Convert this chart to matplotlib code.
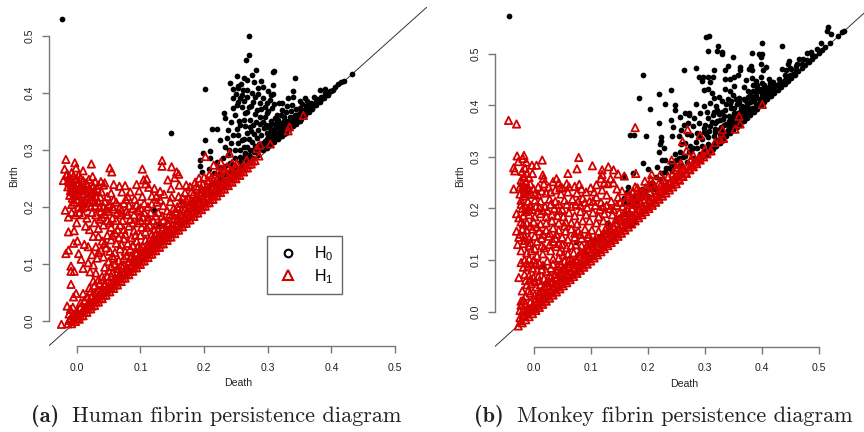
import matplotlib
matplotlib.use("Agg")
import matplotlib.pyplot as plt
from matplotlib.lines import Line2D

# (death, birth) pairs
human_h0 = [
(-.023,.529),(.270,.500),(.270,.466),(.266,.458),(.281,.440),(.275,.431),(.308,.436),(.310,.437),(.251,.429),(.262,.425),
(.267,.422),(.240,.417),(.342,.425),(.279,.418),(.290,.420),(.308,.413),(.201,.406),(.246,.406),(.253,.412),(.253,.408),
(.285,.408),(.293,.409),(.301,.403),(.308,.398),(.339,.403),(.382,.405),(.390,.406),(.432,.433),(.419,.421),(.411,.415),
(.415,.418),(.245,.390),(.259,.396),(.257,.390),(.253,.384),(.261,.405),(.251,.378),(.232,.364),(.233,.355),(.245,.373),
(.249,.361),(.264,.364),(.280,.393),(.277,.384),(.293,.390),(.304,.387),(.317,.381),(.330,.377),(.270,.375),(.283,.370),
(.301,.367),(.314,.361),(.332,.390),(.340,.393),(.359,.390),(.372,.393),(.364,.378),(.351,.373),(.213,.337),(.221,.336),
(.148,.330),(.238,.335),(.252,.337),(.257,.343),(.225,.317),(.201,.317),(.209,.298),(.199,.294),(.194,.282),(.193,.272),
(.196,.261),(.207,.266),(.223,.258),(.236,.320),(.233,.305),(.243,.311),(.249,.299),(.259,.317),(.267,.329),(.277,.343),
(.293,.349),(.309,.337),(.267,.305),(.283,.320),(.298,.329),(.322,.346),(.335,.358),(.257,.288),(.241,.276),(.277,.299),
(.293,.311),(.314,.329),(.330,.340),(.343,.361),(.356,.370),(.377,.384),(.395,.396),(.403,.405),(.121,.195),(.127,.170),
(.139,.156),(.165,.209),(.262,.385),(.268,.392),(.274,.377),(.288,.381),(.296,.375),(.307,.373),(.322,.369),(.287,.358),
(.272,.352),(.282,.349),(.296,.358),(.305,.351),(.316,.352),(.326,.357),(.265,.342),(.273,.333),(.285,.334),(.294,.338),
(.304,.343),(.313,.341),(.322,.335),(.331,.350),(.339,.349),(.347,.352),(.254,.325),(.263,.318),(.275,.314),(.286,.310),
(.298,.318),(.306,.325),(.318,.322),(.326,.328),(.337,.343),(.345,.345),(.352,.358),(.361,.367),(.369,.373),(.248,.285),
(.256,.300),(.265,.295),(.272,.288),(.283,.296),(.291,.302),(.301,.312),(.309,.318),(.319,.327),(.233,.272),(.225,.270),
(.215,.260),(.238,.290),(.246,.272),
(.210,.222),(.220,.236),(.230,.247),(.240,.254),(.250,.262),(.260,.272),(.268,.280),(.276,.285),(.284,.291),(.292,.299),
(.298,.303),(.304,.308),(.310,.314),(.316,.318),(.322,.324),(.328,.330),(.334,.336),(.340,.342),(.346,.348),(.352,.354),
(.358,.360),(.364,.366),(.370,.372),(.376,.378),(.382,.384),(.388,.390),(.394,.397),(.400,.403),(.406,.409),
(.300,.312),(.306,.316),(.312,.322),(.318,.328),(.324,.334),(.330,.338),(.336,.344),(.342,.352),(.348,.355),(.354,.362),
(.360,.369),(.366,.374),(.372,.379),(.378,.388),(.384,.392),(.390,.400),(.292,.310),(.300,.322),(.310,.333),(.320,.343),
(.328,.348),(.336,.354),(.344,.360),(.352,.368),(.360,.376),(.368,.382),(.286,.303),(.278,.296),(.270,.291),(.262,.286),
# second pass, the thick part of the cloud
(.303,.330),(.311,.345),(.318,.338),(.325,.350),(.333,.345),(.341,.358),(.349,.362),(.357,.366),(.365,.370),(.290,.325),
(.297,.343),(.305,.335),(.312,.356),(.320,.360),(.328,.366),(.336,.368),(.345,.372),(.353,.380),(.362,.385),(.298,.365),
(.288,.345),(.279,.328),(.270,.318),(.262,.305),(.254,.312),(.246,.325),(.239,.300),(.229,.285),(.220,.278),(.210,.285),
(.280,.362),(.272,.340),(.290,.372),(.299,.382),(.310,.380),(.322,.382),(.338,.378),(.350,.386),(.262,.352),(.255,.350),
(.268,.366),(.260,.374),(.305,.395),(.285,.398),(.275,.400),(.268,.405),(.258,.415),(.250,.398),(.243,.348),(.300,.340),
(.315,.348),(.325,.338),(.335,.352),(.343,.349),(.351,.350),(.295,.315),(.303,.320),(.311,.326),(.319,.333),(.327,.340),
(.335,.348),(.343,.354),(.351,.359),(.359,.364),(.367,.376),(.375,.386),(.383,.389),(.390,.395),(.398,.402),(.280,.306),
(.272,.300),(.264,.293),(.256,.278),(.248,.270),(.240,.262),(.232,.258),(.224,.250),(.216,.244),(.208,.236),(.200,.228),
]

human_h1 = [
(-.017,.283),(-.003,.277),(.023,.275),(-.019,.266),(-.001,.268),(.010,.263),(-.021,.246),(.052,.268),(.055,.261),(.103,.266),
(.134,.281),(.134,.271),(.149,.270),(.157,.261),(.160,.257),(.025,.253),(.105,.247),(.110,.249),(.108,.240),(.094,.239),
(.143,.247),(.154,.251),(.058,.239),(.067,.236),(.076,.237),(.044,.242),(.042,.238),(.015,.242),(.029,.244),(.161,.238),
(.172,.238),(.148,.232),(.131,.227),(.113,.234),(.071,.226),(.080,.218),(.077,.213),(.103,.218),(.118,.219),(.125,.218),
(.131,.212),(.147,.209),(.149,.217),(.160,.218),(.091,.213),(.039,.226),(.037,.217),(.044,.209),(.010,.223),(.018,.218),
(.005,.229),(-.008,.232),(-.003,.226),(-.018,.194),(-.013,.182),(-.013,.156),(-.004,.158),(.001,.140),(-.005,.136),(-.013,.124),
(-.017,.118),(.003,.118),(.007,.108),(-.009,.096),(-.004,.087),(-.009,.087),(.010,.092),(.021,.086),(-.009,.064),(-.001,.048),
(-.005,.042),(-.015,.026),(-.024,-.006),(.202,.288),(.240,.294),(.304,.310),(.288,.308),(.283,.302),(.334,.340),(.332,.333),
(.356,.360),(.267,.282),(.251,.276),(.215,.273),(.226,.278),
# dense part at the left edge
(-.015,.258),(-.012,.252),(-.008,.260),(-.005,.254),(-.012,.243),(-.007,.245),(-.002,.248),(.003,.256),(.006,.250),(-.014,.235),
(-.010,.228),(-.005,.236),(.001,.240),(.006,.238),(.012,.235),(-.011,.220),(-.007,.215),(-.002,.219),(.003,.222),(.008,.228),
(.014,.228),(.020,.232),(.026,.236),(.032,.232),(-.004,.208),(.001,.212),(.006,.208),(.012,.212),(.018,.208),(.024,.224),
(.030,.218),(.034,.208),(.003,.200),(.009,.198),(.015,.201),(.022,.200),(.028,.210),(.036,.199),(.042,.200),(.050,.203),
(.056,.200),(.062,.208),(.068,.200),(.074,.206),(.082,.202),(.088,.197),(.094,.203),(.100,.198),(.106,.206),(.112,.200),
(.118,.205),(.126,.208),(.136,.202),(.142,.193),(.152,.197),(.048,.218),(.054,.224),(.084,.226),(.098,.228),(.122,.232),
(.137,.222),(.058,.212),(.064,.190),
(-.008,.190),(-.002,.186),(.004,.190),(.010,.186),(.016,.180),(.024,.190),(.030,.186),(.036,.178),(.044,.187),(.050,.192),
(.056,.180),(.062,.176),(.070,.186),(.078,.192),(.084,.178),(.090,.186),(.098,.182),(.106,.190),(.112,.182),(.120,.176),
(.128,.190),(.134,.184),(.146,.187),(.156,.190),(.150,.178),(.000,.172),(.014,.166),(.020,.160),(.028,.172),(.034,.162),
(.042,.168),(.048,.176),(.054,.164),(.060,.154),(.068,.168),(.074,.160),(.082,.166),(.090,.158),(.096,.172),(.102,.164),
(.108,.156),(.114,.168),(.122,.160),(.130,.170),(.142,.172),(.128,.150),(.026,.148),(.034,.148),(.040,.140),(.048,.150),
(.054,.142),(.062,.136),(.066,.146),(.074,.144),(.080,.136),(.086,.146),(.094,.140),(.100,.150),(.108,.142),(.114,.134),
(.120,.146),(.012,.134),(.018,.130),(.030,.130),(.038,.124),(.046,.128),(.052,.122),(.060,.120),(.068,.126),(.076,.122),
(.084,.126),(.092,.120),(.100,.128),(.106,.122),(.024,.116),(.032,.110),(.042,.112),(.050,.104),(.058,.110),(.066,.106),
(.074,.110),(.082,.104),(.090,.108),(.018,.102),(.026,.098),(.044,.094),(.054,.096),(.064,.092),(.072,.094),(.080,.092),
(.030,.084),(.040,.078),(.048,.078),(.056,.084),(.066,.076),(.020,.058),(.028,.062),(.036,.066),(.044,.062),(.052,.066),
(.010,.048),(.016,.042),(.022,.052),(.030,.050),(.038,.052),(.006,.032),(.012,.036),(.020,.036),(.028,.040),
(-.010,.020),(-.006,.024),(.000,.018),(.006,.024),(.012,.022),(-.012,.012),(-.006,.010),(.000,.012),
# band along the diagonal
(-.014,-.005),(-.008,-.005),(-.002,-.001),(.004,.003),(.010,.009),(.016,.015),(.022,.021),(.028,.027),(.034,.033),(.040,.039),
(.046,.045),(.052,.051),(.058,.057),(.064,.063),(.070,.069),(.076,.075),(.082,.081),(.088,.087),(.094,.093),(.100,.099),
(.106,.105),(.112,.111),(.118,.117),(.124,.123),(.130,.129),(.136,.135),(.142,.141),(.148,.147),(.154,.153),(.160,.159),
(.166,.165),(.172,.171),(.178,.177),(.184,.183),(.190,.189),(.196,.195),(.202,.201),(.208,.207),(.214,.213),(.220,.219),
(.226,.225),(.232,.231),(.238,.237),(.244,.243),(.250,.249),(.256,.255),(.262,.261),(.268,.268),(.274,.275),(.280,.281),
(.286,.289),(-.010,.004),(-.004,.008),(.002,.010),(.008,.016),(.014,.023),(.020,.029),(.026,.034),(.032,.041),(.038,.047),
(.044,.053),(.050,.059),(.056,.065),(.062,.071),(.068,.078),(.074,.083),(.080,.090),(.086,.096),(.092,.102),(.098,.108),
(.104,.114),(.110,.120),(.116,.126),(.122,.132),(.128,.138),(.134,.144),(.140,.150),(.146,.156),(.152,.162),(.158,.168),
(.164,.174),(.170,.180),(.176,.186),(.182,.192),(.188,.198),(.194,.204),(.200,.210),(.206,.216),(.212,.222),(.218,.228),
(.224,.234),(.230,.240),(.236,.246),(.242,.252),(.248,.258),(.254,.264),(.260,.270),
(.024,.044),(.034,.054),(.044,.066),(.054,.078),(.064,.086),(.074,.098),(.084,.110),(.094,.118),(.104,.130),(.114,.142),
(.124,.152),(.134,.160),(.144,.170),(.154,.180),(.162,.188),(.170,.196),(.178,.204),(.186,.212),(.194,.220),(.202,.228),
(.210,.236),(.218,.242),(.226,.250),(.234,.256),(.242,.262),(.250,.270),
(.168,.205),(.175,.215),(.183,.222),(.190,.232),(.198,.240),(.206,.246),(.170,.225),(.178,.235),(.186,.243),(.200,.252),
(.192,.250),(.165,.195),(.158,.200),(.150,.186),(.160,.180),(.140,.160),(.132,.148),(.122,.140),(.112,.130),(.102,.118),
(.212,.252),(.222,.262),(.232,.265),
# second pass, filling the band and the crowded patches
(-.012,.001),(-.006,.002),(.000,.005),(.006,.009),(.012,.015),(.018,.021),(.024,.026),(.030,.033),(.036,.039),(.042,.045),
(.048,.051),(.054,.057),(.060,.063),(.066,.069),(.072,.075),(.078,.081),(.084,.087),(.090,.093),(.096,.099),(.102,.105),
(.108,.111),(.114,.117),(.120,.123),(.126,.129),(.132,.135),(.138,.141),(.144,.147),(.150,.153),(.156,.159),(.162,.165),
(.168,.171),(.174,.177),(.180,.183),(.186,.189),(.192,.195),(.198,.201),(.204,.207),(.210,.213),(.216,.219),(.222,.225),
(.228,.231),(.234,.238),(.240,.244),(.246,.250),(.252,.256),(.258,.262),(.264,.268),(.270,.274),(.276,.280),
(.028,.038),(.038,.050),(.048,.060),(.058,.072),(.068,.084),(.078,.094),(.088,.104),(.098,.114),(.108,.126),(.118,.136),
(.128,.146),(.138,.154),(.148,.164),(.158,.176),(.166,.184),(.174,.192),(.182,.200),(.190,.208),(.198,.216),(.206,.224),
(.214,.232),(.222,.238),(.230,.246),(.238,.252),(.246,.262),
(.180,.210),(.188,.218),(.196,.226),(.204,.236),(.212,.242),(.220,.248),(.176,.198),(.184,.206),(.192,.214),(.172,.212),
(.164,.206),(.156,.192),(.166,.216),(.180,.226),(.188,.236),(.196,.232),(.208,.256),(.226,.262),(.236,.270),(.244,.276),
(-.016,.255),(-.013,.247),(-.009,.238),(-.006,.226),(-.001,.232),(.004,.234),(.009,.232),(.016,.238),(.021,.225),(.000,.250),
(.010,.246),(.019,.248),(.027,.228),(.034,.238),(.038,.244),(-.010,.250),(.016,.214),(.023,.212),(-.008,.204),(.010,.205),
(.029,.202),(.038,.192),(.046,.196),(.058,.196),(.070,.194),(.080,.186),(.096,.194),(.104,.182),(.116,.190),(.124,.184),
(.040,.182),(.052,.172),(.064,.160),(.072,.176),(.088,.172),(.100,.176),(.112,.176),(.124,.168),(.136,.176),(.136,.164),
(.118,.152),(.110,.164),(.092,.150),(.076,.152),(.056,.150),(.044,.136),(.070,.134),(.088,.132),(.096,.130),(.034,.120),
(.056,.114),(.078,.114),(.086,.114),(.060,.100),(.070,.098),(.050,.088),(.042,.072),(.034,.072),(.026,.070),(.018,.030),
]

monkey_h0 = [
(-.044,.573),(.307,.534),(.303,.532),(.516,.552),(.515,.545),(.522,.538),(.544,.545),(.541,.542),(.533,.534),(.401,.521),
(.436,.516),(.503,.521),(.519,.521),(.510,.513),(.324,.516),(.322,.506),(.331,.503),(.331,.499),(.306,.505),(.350,.494),
(.383,.502),(.395,.500),(.401,.500),(.399,.494),(.480,.501),(.487,.503),(.465,.490),(.480,.489),(.448,.487),(.446,.481),
(.435,.471),(.443,.468),(.399,.481),(.407,.474),(.403,.468),(.381,.477),(.377,.471),(.382,.469),(.362,.474),(.362,.469),
(.340,.477),(.335,.469),(.317,.469),(.263,.469),(.285,.473),(.191,.460),(.219,.423),(.240,.430),(.185,.414),(.204,.394),
(.230,.402),(.248,.401),(.248,.391),(.219,.366),(.240,.371),(.257,.377),(.265,.385),(.272,.386),(.169,.342),(.176,.343),
(.197,.341),(.245,.359),(.263,.362),(.258,.353),(.243,.340),(.254,.341),(.223,.338),(.223,.331),(.222,.325),(.228,.318),
(.219,.310),(.191,.288),(.201,.276),(.217,.281),(.225,.294),(.230,.295),(.158,.264),(.175,.268),(.166,.242),(.190,.238),
(.195,.234),
# cloud above the diagonal
(.290,.455),(.297,.456),(.305,.455),(.315,.455),(.310,.445),(.296,.448),(.335,.452),(.345,.451),(.352,.455),(.358,.459),
(.372,.450),(.383,.453),(.390,.448),(.398,.456),(.400,.444),(.412,.452),(.420,.446),(.428,.440),(.298,.430),(.305,.432),
(.312,.425),(.316,.415),(.325,.417),(.335,.432),(.345,.428),(.352,.437),(.368,.436),(.375,.428),(.385,.440),(.392,.434),
(.406,.436),(.415,.438),(.425,.432),(.285,.402),(.298,.398),(.310,.405),(.320,.398),(.330,.408),(.340,.412),(.350,.420),
(.360,.415),(.370,.410),(.380,.420),(.390,.424),(.400,.420),(.412,.426),(.272,.382),(.282,.375),(.292,.385),(.304,.388),
(.316,.388),(.325,.384),(.336,.392),(.346,.396),(.356,.402),(.366,.398),(.376,.404),(.386,.408),(.396,.412),(.270,.365),
(.280,.360),(.290,.365),(.300,.362),(.312,.368),(.322,.370),(.332,.374),(.342,.380),(.352,.385),(.362,.388),(.372,.392),
(.382,.396),(.268,.345),(.276,.342),(.286,.346),(.298,.348),(.308,.350),(.318,.355),(.328,.358),(.338,.364),(.348,.368),
(.358,.374),(.368,.378),(.258,.325),(.266,.328),(.275,.322),(.285,.330),(.296,.335),(.306,.338),(.316,.340),(.326,.345),
(.248,.305),(.256,.310),(.265,.302),(.276,.312),(.286,.318),(.296,.322),(.306,.326),(.240,.288),(.250,.295),(.258,.284),
(.268,.290),(.280,.298),(.292,.306),(.232,.278),(.242,.272),(.215,.262),(.225,.268),(.205,.250),(.212,.238),(.200,.225),
# thick band next to the diagonal
(.290,.292),(.296,.300),(.302,.304),(.308,.310),(.314,.316),(.320,.322),(.326,.328),(.332,.334),(.338,.340),(.344,.346),
(.350,.352),(.356,.358),(.362,.364),(.368,.370),(.374,.376),(.380,.382),(.386,.388),(.392,.394),(.398,.400),(.404,.406),
(.410,.412),(.416,.418),(.422,.424),(.428,.430),(.434,.436),(.440,.442),(.446,.448),(.452,.454),(.458,.460),(.464,.466),
(.470,.472),(.476,.478),(.482,.484),(.488,.490),(.494,.496),(.500,.502),(.506,.508),
(.300,.312),(.310,.322),(.320,.332),(.330,.342),(.340,.352),(.350,.362),(.360,.372),(.370,.382),(.380,.392),(.390,.402),
(.400,.412),(.410,.422),(.420,.432),(.430,.442),(.440,.450),(.450,.460),(.460,.468),(.470,.480),(.330,.352),(.340,.362),
(.350,.374),(.360,.382),(.370,.394),(.380,.406),(.390,.414),(.400,.426),(.410,.434),(.420,.440),(.430,.452),(.440,.460),
(.452,.470),(.460,.476),(.404,.440),(.394,.428),(.384,.416),(.374,.404),(.364,.395),
(.158,.220),(.163,.232),(.172,.222),(.185,.230),(.190,.222),(.180,.212),(.170,.208),(.162,.210),(.075,.135),(.105,.139),
(.115,.141),(.128,.172),(.160,.190),(.172,.170),(.178,.176),(.090,.112),(.016,.090),
# second pass, the crowded part
(.335,.342),(.342,.350),(.349,.356),(.356,.364),(.363,.371),(.370,.377),(.377,.385),(.384,.390),(.391,.398),(.398,.405),
(.405,.412),(.412,.419),(.419,.426),(.426,.433),(.433,.440),(.440,.447),(.447,.454),(.454,.462),(.306,.316),(.316,.326),
(.326,.336),(.336,.346),(.346,.356),(.356,.368),(.366,.376),(.376,.388),(.386,.396),(.396,.406),(.406,.418),(.416,.428),
(.426,.440),(.436,.446),(.318,.348),(.326,.354),(.334,.362),(.342,.370),(.350,.378),(.358,.386),(.366,.390),(.374,.398),
(.382,.408),(.390,.418),(.398,.432),(.406,.426),(.414,.444),(.344,.402),(.352,.396),(.360,.406),(.368,.412),(.376,.416),
(.384,.428),(.392,.440),(.306,.375),(.314,.382),(.322,.392),(.330,.388),(.338,.402),(.346,.408),(.354,.412),(.302,.345),
(.310,.360),(.318,.366),(.326,.372),(.334,.380),(.290,.340),(.298,.356),(.280,.318),(.272,.310),(.262,.300),(.254,.298),
(.246,.282),(.238,.278),(.230,.270),(.222,.258),(.208,.240),(.450,.472),(.462,.480),(.472,.490),(.488,.498),(.496,.510),
]

monkey_h1 = [
(-.044,.371),(-.030,.364),(-.029,.302),(-.017,.303),(-.019,.297),(-.027,.291),(-.013,.290),(.015,.294),(-.003,.284),(.005,.284),
(-.035,.279),(-.033,.273),(.079,.299),(.076,.277),(.103,.283),(.131,.281),(.120,.275),(.140,.275),(.120,.266),(.148,.267),
(.159,.263),(.060,.268),(.178,.357),(.270,.353),(.292,.342),(.331,.353),(.360,.379),(.362,.364),(.401,.402),(.353,.354),
(.261,.330),(.268,.312),(.242,.294),(.179,.268),(.195,.253),(.318,.328),(.327,.334),(.333,.336),(.300,.315),(.311,.312),
(.280,.303),(.289,.297),(.207,.266),(.222,.266),(.251,.275),(.260,.284),
# top rows
(-.020,.272),(-.015,.278),(-.012,.268),(-.017,.262),(-.022,.255),(-.014,.252),(-.008,.260),(-.002,.268),(.016,.265),(.017,.258),
(-.035,.238),(-.024,.242),(-.018,.245),(-.012,.240),(-.006,.248),(.000,.238),(.008,.242),(.018,.248),(.026,.242),(.034,.252),
(.040,.258),(.044,.250),(.046,.240),(.058,.248),(.062,.242),(.072,.243),(.080,.247),(.084,.238),(.100,.240),(.110,.246),
(.118,.258),(.124,.250),(.135,.258),(.130,.248),(.140,.250),(.146,.238),(.155,.234),(.178,.242),(.168,.228),(.120,.236),
(.106,.232),(.092,.232),(.076,.230),(.060,.232),(.048,.228),(.030,.232),(.022,.230),(.008,.226),(-.004,.228),(-.016,.224),
(-.022,.216),(-.010,.214),(-.022,.208),(-.014,.202),(-.006,.206),(.002,.216),(.012,.214),(.020,.204),(.028,.218),(.038,.214),
(.044,.208),(.054,.216),(.068,.218),(.074,.208),(.086,.220),(.098,.214),(.110,.222),(.118,.212),(.128,.226),(.136,.214),
(.148,.222),(.160,.214),(.172,.220),(.156,.204),(.146,.206),(.134,.200),(.122,.204),(.108,.206),(.094,.202),(.082,.206),
(.066,.204),(.050,.198),(.036,.200),(.024,.196),(.010,.202),(-.002,.198),(-.014,.194),(-.030,.190),(-.026,.182),(-.018,.186),
(-.008,.188),(.002,.184),(.012,.190),(.022,.184),(.032,.188),(.042,.186),(.052,.184),(.062,.192),(.072,.186),(.082,.194),
(.092,.188),(.104,.192),(.114,.184),(.124,.190),(.138,.188),(.150,.192),(.160,.194),(.032,.176),(.044,.172),(.056,.174),
(.066,.172),(.076,.170),(.086,.176),(.098,.176),(.110,.172),(.122,.176),(.132,.170),(.144,.178),(.154,.176),(-.022,.174),
(-.012,.172),(.000,.174),(.012,.170),(.022,.172),(-.030,.156),(-.020,.160),(-.012,.158),(-.002,.160),(.010,.156),(.022,.158),
(.034,.162),(.044,.158),(.056,.156),(.066,.160),(.078,.156),(.090,.160),(.102,.158),(.114,.156),(.126,.160),(.136,.156),
(-.026,.144),(-.016,.146),(-.008,.142),(.002,.146),(.014,.142),(.026,.146),(.038,.142),(.050,.144),(.060,.140),(.072,.144),
(.084,.142),(.096,.144),(.108,.140),(.118,.144),(-.028,.130),(-.018,.132),(-.008,.128),(.002,.122),(.014,.128),(.028,.130),
(.040,.126),(.050,.130),(.058,.124),(.084,.128),(.094,.130),(.104,.126),(-.022,.118),(-.012,.114),(-.004,.118),(.006,.108),
(.016,.112),(.030,.118),(.046,.116),(.060,.112),(.070,.114),(.082,.116),(.092,.112),(-.016,.100),(-.008,.102),(.000,.100),
(.010,.094),(.024,.098),(.034,.102),(.054,.098),(.066,.100),(.076,.098),(-.018,.086),(-.010,.088),(-.002,.084),(.006,.080),
(.014,.082),(.030,.084),(.042,.088),(.052,.084),(.062,.086),(-.026,.066),(-.016,.072),(-.008,.070),(.000,.066),(.008,.068),
(.018,.064),(.028,.070),(.038,.072),(.048,.070),(-.020,.040),(-.012,.052),(-.004,.054),(.004,.048),(.012,.052),(.022,.056),
(.032,.058),(-.022,.020),(-.014,.030),(-.006,.036),(.002,.032),(.010,.038),(.018,.040),(-.022,.012),(-.014,.016),(-.006,.018),
(.002,.020),(-.024,.002),(-.018,.004),(-.010,.006),(-.002,.008),
# band along the diagonal
(-.027,-.028),(-.020,-.022),(-.014,-.016),(-.008,-.010),(-.002,-.004),(.004,.002),(.010,.008),(.016,.014),(.022,.020),(.028,.026),
(.034,.032),(.040,.038),(.046,.044),(.052,.050),(.058,.056),(.064,.062),(.070,.068),(.076,.074),(.082,.080),(.088,.086),
(.094,.092),(.100,.098),(.106,.104),(.112,.110),(.118,.116),(.124,.122),(.130,.128),(.136,.134),(.142,.140),(.148,.146),
(.154,.152),(.160,.158),(.166,.164),(.172,.170),(.178,.176),(.184,.182),(.190,.188),(.196,.194),(.202,.200),(.208,.206),
(.214,.212),(.220,.218),(.226,.224),(.232,.230),(.238,.236),(.244,.242),(.250,.248),(.256,.255),(.262,.262),(.268,.268),
(.274,.275),(.280,.281),(.286,.287),(.292,.294),(.298,.300),(.304,.306),(.310,.312),
(-.024,-.012),(-.018,-.006),(-.012,.000),(-.006,.006),(.000,.012),(.006,.018),(.012,.024),(.018,.030),(.024,.036),(.030,.042),
(.036,.048),(.042,.054),(.048,.060),(.054,.066),(.060,.072),(.066,.078),(.072,.084),(.078,.090),(.084,.096),(.090,.102),
(.096,.108),(.102,.114),(.108,.120),(.114,.126),(.120,.132),(.126,.138),(.132,.144),(.138,.150),(.144,.156),(.150,.162),
(.156,.168),(.162,.174),(.168,.180),(.174,.186),(.180,.192),(.186,.198),(.192,.204),(.198,.210),(.204,.216),(.210,.222),
(.216,.228),(.222,.234),(.228,.240),(.234,.246),(.240,.252),(.246,.258),(.252,.264),(.258,.270),(.264,.276),(.270,.282),
(.010,.034),(.020,.046),(.030,.056),(.040,.066),(.050,.076),(.060,.088),(.070,.096),(.080,.108),(.090,.118),(.100,.128),
(.110,.136),(.120,.148),(.130,.156),(.140,.166),(.150,.180),(.160,.184),(.168,.192),(.172,.200),(.176,.208),(.180,.216),
(.184,.224),(.190,.232),(.196,.240),(.174,.232),(.182,.240),(.188,.212),(.196,.224),(.204,.232),(.212,.244),(.220,.250),
(.228,.256),(.236,.262),(.244,.268),(.206,.256),(.214,.236),(.222,.244),(.230,.250),(.250,.280),(.258,.288),(.276,.296),
# second pass, filling the band and the crowded patches
(-.022,-.018),(-.016,-.010),(-.010,-.005),(-.004,.001),(.002,.006),(.008,.012),(.014,.018),(.020,.024),(.026,.030),(.032,.036),
(.038,.042),(.044,.048),(.050,.054),(.056,.060),(.062,.066),(.068,.072),(.074,.078),(.080,.084),(.086,.090),(.092,.096),
(.098,.102),(.104,.108),(.110,.114),(.116,.120),(.122,.126),(.128,.132),(.134,.138),(.140,.144),(.146,.150),(.152,.156),
(.158,.162),(.164,.168),(.170,.174),(.176,.180),(.182,.186),(.188,.192),(.194,.198),(.200,.204),(.206,.210),(.212,.216),
(.218,.222),(.224,.228),(.230,.234),(.236,.240),(.242,.246),(.248,.252),(.254,.258),(.260,.264),(.266,.270),(.272,.277),
(.278,.284),(.284,.290),(.290,.298),(.296,.304),
(.004,.026),(.014,.040),(.024,.050),(.034,.060),(.044,.072),(.054,.082),(.064,.092),(.074,.102),(.084,.112),(.094,.122),
(.104,.132),(.114,.142),(.124,.152),(.134,.162),(.144,.172),(.154,.184),(.164,.196),(.170,.212),(.176,.222),(.186,.232),
(-.018,.022),(-.010,.040),(-.014,.060),(-.006,.062),(.002,.058),(.010,.060),(.020,.048),(.030,.066),(.040,.080),(.048,.092),
(-.022,.095),(-.012,.094),(-.004,.092),(.004,.094),(.016,.090),(.022,.078),(.034,.092),(.044,.104),(.052,.110),(.062,.100),
(-.024,.150),(-.016,.138),(-.006,.134),(.006,.136),(.018,.124),(.034,.136),(.044,.132),(.066,.128),(.074,.130),(.100,.136),
(-.018,.170),(-.006,.166),(.006,.164),(.016,.150),(.028,.152),(.040,.150),(.054,.166),(.072,.152),(.082,.150),(.096,.150),
(-.020,.200),(-.008,.198),(.004,.204),(.016,.196),(.030,.208),(.044,.196),(.058,.208),(.078,.214),(.090,.212),(.104,.214),
(-.016,.232),(-.008,.236),(.002,.228),(-.024,.228),(-.016,.236),(-.020,.250),(-.010,.228),(.014,.234),(.038,.236),(.050,.240),
(.116,.198),(.128,.206),(.140,.198),(.152,.212),(.164,.224),(.174,.210),(.184,.216),(.192,.228),(.200,.240),(.208,.248),
]


def px_axes(fig, left, right, top, bottom):
    # axes box given in picture pixels (864x432, y from the top)
    return fig.add_axes([left / 864, 1 - bottom / 432, (right - left) / 864, (bottom - top) / 432])


def draw_panel(ax, h0, h1, lim):
    ax.set_xlim(lim)
    ax.set_ylim(lim)
    ax.plot(lim, lim, color="#333333", lw=0.7, zorder=1)
    ax.scatter([p[0] for p in h0], [p[1] for p in h0], s=17, color="black", linewidths=0, zorder=2)
    ax.scatter([p[0] for p in h1], [p[1] for p in h1], s=28, marker="^", facecolors="none",
               edgecolors="#d40000", linewidths=1.3, zorder=3)
    for side in ("top", "right"):
        ax.spines[side].set_visible(False)
    for side in ("left", "bottom"):
        ax.spines[side].set_bounds(0, 0.5)
        ax.spines[side].set_color("#777777")
        ax.spines[side].set_linewidth(1.0)
    ax.set_xticks(ticks)
    ax.set_yticks(ticks)
    ax.set_xticklabels([f"{t:.1f}" for t in ticks])
    ax.set_yticklabels([f"{t:.1f}" for t in ticks], rotation=90, va="center")
    ax.tick_params(length=5, width=1.0, color="#777777", labelsize=7.6, labelcolor="#222222")
    ax.tick_params(axis="x", pad=7)
    ax.tick_params(axis="y", pad=5)
    ax.set_xlabel("Death", fontsize=7.6, labelpad=4, color="#222222")
    ax.set_ylabel("Birth", fontsize=7.6, labelpad=4, color="#222222")
    ax.patch.set_alpha(0)


plt.rcParams["font.family"] = ["Liberation Sans", "DejaVu Sans"]
plt.rcParams["mathtext.fontset"] = "custom"
plt.rcParams["mathtext.rm"] = "Liberation Sans"
ticks = [0.0, 0.1, 0.2, 0.3, 0.4, 0.5]

fig = plt.figure(figsize=(8.64, 4.32), dpi=100)

ax1 = px_axes(fig, 48.7, 427, 7, 346)
draw_panel(ax1, human_h0, human_h1, (-0.044, 0.55))
ax2 = px_axes(fig, 494.7, 873, 5, 346.7)
draw_panel(ax2, monkey_h0, monkey_h1, (-0.0683, 0.595))

handles = [
    Line2D([], [], ls="none", marker="o", mfc="none", mec="black", mew=1.5, ms=5.5),
    Line2D([], [], ls="none", marker="^", mfc="none", mec="#d40000", mew=1.5, ms=7.5),
]
leg = ax1.legend(handles, ["H$\\mathregular{_0}$", "H$\\mathregular{_1}$"], loc="center",
                 bbox_to_anchor=((304.8 - 48.7) / 378.3, 1 - (265 - 7) / 339),
                 fontsize=11.5, frameon=True, fancybox=False, framealpha=1,
                 edgecolor="#666666", borderpad=0.55, labelspacing=0.25,
                 handlelength=1.5, handletextpad=0.9)
leg.get_frame().set_linewidth(1.0)

fig.text(31 / 864, 1 - 422 / 432, "(a)", family="cmb10", fontsize=16, color="#222222", va="baseline")
fig.text(71.5 / 864, 1 - 422 / 432, "Human fibrin persistence diagram", family="cmr10", fontsize=16,
         color="#222222", va="baseline")
fig.text(474 / 864, 1 - 422 / 432, "(b)", family="cmb10", fontsize=16, color="#222222", va="baseline")
fig.text(517 / 864, 1 - 422 / 432, "Monkey fibrin persistence diagram", family="cmr10", fontsize=16,
         color="#222222", va="baseline")

fig.savefig("out.png", dpi=100)
